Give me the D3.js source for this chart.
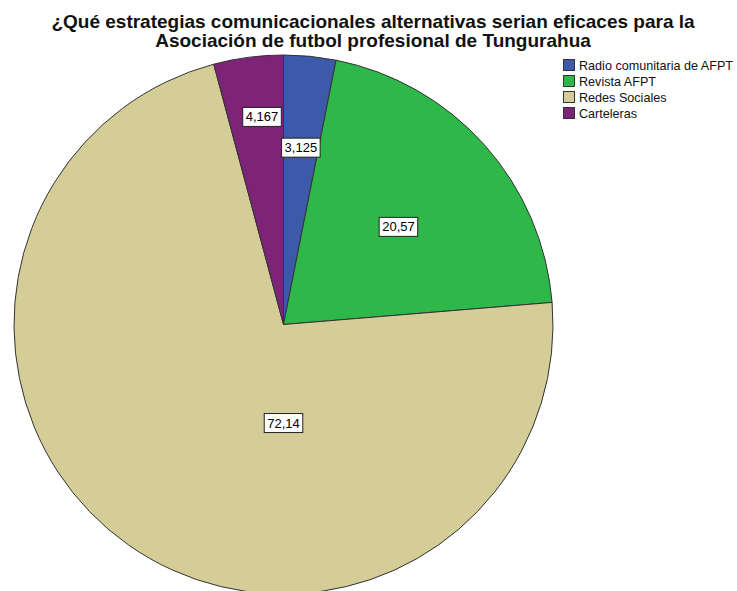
<!DOCTYPE html>
<html>
<head>
<meta charset="utf-8">
<script src="https://cdn.jsdelivr.net/npm/d3@7"></script>
<style>
  html, body { margin: 0; padding: 0; background: #fff; }
  svg { display: block; }
</style>
</head>
<body>
<svg id="chart" width="737" height="591"></svg>
<script>
const titleLines = [
  "¿Qué estrategias comunicacionales alternativas serian eficaces para la",
  "Asociación de futbol profesional de Tungurahua"
];
const categories = ["Radio comunitaria de AFPT", "Revista AFPT", "Redes Sociales", "Carteleras"];
const values = [3.125, 20.57, 72.14, 4.167];
const valueLabels = ["3,125", "20,57", "72,14", "4,167"];
const colors = ["#3d5aaa", "#2fb84a", "#d4cd98", "#7d2479"];
// label placement: [radius fraction, angle in degrees from 12 o'clock]
const labelPlacement = [[0.66, 5.6], [0.56, 49.6], [0.365, 180], [0.775, -5.9]];

const svg = d3.select("#chart");
const cx = 283.5, cy = 324.5, r = 269.5;

// Title
svg.append("g").selectAll("text").data(titleLines).join("text")
  .attr("x", 373).attr("y", (d, i) => 28 + i * 19)
  .attr("text-anchor", "middle")
  .attr("font-family", "Liberation Sans, Arial, sans-serif")
  .attr("font-weight", "bold").attr("font-size", 19)
  .attr("fill", "#111")
  .text(d => d);

const pie = d3.pie().sort(null).value(d => d);
const arcs = pie(values);
const arc = d3.arc().innerRadius(0).outerRadius(r);

const g = svg.append("g").attr("transform", `translate(${cx},${cy})`);
g.selectAll("path").data(arcs).join("path")
  .attr("d", arc)
  .attr("fill", (d, i) => colors[i])
  .attr("stroke", "#333")
  .attr("stroke-width", 1);

// Value labels
const lbl = g.selectAll("g.lbl").data(arcs).join("g").attr("class", "lbl")
  .attr("transform", (d, i) => {
    const [f, a] = labelPlacement[i];
    const rad = a * Math.PI / 180;
    return `translate(${Math.sin(rad) * r * f},${-Math.cos(rad) * r * f})`;
  });
lbl.each(function(d, i) {
  const s = d3.select(this);
  const t = s.append("text")
    .attr("text-anchor", "middle").attr("dy", "0.36em")
    .attr("font-family", "Liberation Sans, Arial, sans-serif")
    .attr("font-size", 13).attr("fill", "#000")
    .text(valueLabels[i]);
  const bb = t.node().getBBox();
  s.insert("rect", "text")
    .attr("x", bb.x - 3).attr("y", bb.y - 2)
    .attr("width", bb.width + 6).attr("height", bb.height + 4)
    .attr("fill", "#fff").attr("stroke", "#222").attr("stroke-width", 1);
});

// Legend
const leg = svg.append("g").attr("transform", "translate(563,59)");
const rows = leg.selectAll("g").data(categories).join("g")
  .attr("transform", (d, i) => `translate(0,${i * 16})`);
rows.append("rect").attr("x", 0.5).attr("y", 0.5).attr("width", 11).attr("height", 11)
  .attr("fill", (d, i) => colors[i]).attr("stroke", "#333").attr("stroke-width", 1);
rows.append("text").attr("x", 16).attr("y", 6.5).attr("dy", "0.35em")
  .attr("font-family", "Liberation Sans, Arial, sans-serif")
  .attr("font-size", 12.6).attr("fill", "#111")
  .text(d => d);
</script>
</body>
</html>
